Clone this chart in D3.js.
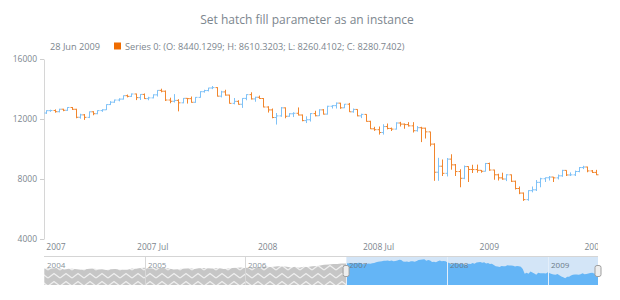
<!DOCTYPE html>
<html><head><meta charset="utf-8">
<script src="https://cdn.jsdelivr.net/npm/d3@7"></script>
<style>body{margin:0;background:#fff;} svg{display:block;font-family:"Open Sans",sans-serif;}</style>
</head><body><svg id="c" width="620" height="300"></svg>
<script>
// ---- data (weekly OHLC, first week dated 7 Jan 2007, last 28 Jun 2009) ----
const opens = [12398,12556,12565,12487,12653,12580,12767,12647,12114,12276,12110,12481,12354,12560,12612,12961,13120,13264,13327,13556,
13507,13668,13424,13639,13360,13408,13611,13907,13851,13265,13181,13239,13079,13378,13358,13113,13442,13820,13896,14066,
14093,13522,13806,13595,13042,13176,12981,13372,13625,13339,13450,13366,12800,12606,12099,12207,12743,12182,12348,12381,
12266,11894,11951,12361,12216,12609,12325,12849,12891,13058,12745,12986,12480,12638,12210,12307,11843,11346,11288,11100,
11496,11370,11326,11734,11659,11628,11543,11220,11421,11388,11143,10325,8451,8852,8378,9325,8943,8497,8046,8829,
8635,8629,8579,8515,9034,8599,8281,8077,8000,8280,7850,7366,7062,6627,7224,7279,7776,8018,8083,8131,
8076,8212,8575,8268,8277,8500,8763,8799,8539,8440.1299];
const highs = [12580,12620,12640,12680,12680,12790,12800,12680,12350,12330,12500,12520,12580,12650,12980,13190,13290,13380,13570,13630,
13700,13690,13660,13700,13480,13640,13920,14020,13900,13420,13660,13320,13400,13400,13500,13460,13850,13950,14080,14200,
14120,13880,13950,13620,13400,13250,13390,13650,13780,13480,13560,13400,12850,12700,12400,12800,12770,12390,12450,12770,
12300,12180,12400,12550,12650,12660,12880,12920,13100,13080,13000,13070,12700,12650,12350,12320,11880,11480,11500,11650,
11700,11430,11780,11810,11700,11790,11790,11530,11480,11420,11150,10380,9410,9300,9400,9650,9000,8650,8900,8850,
8950,8960,8600,9070,9090,8620,8350,8420,8320,8300,7890,7500,7100,7250,7500,7930,8080,8100,8200,8140,
8300,8610,8580,8440,8560,8800,8880,8820,8600,8610.3203];
const lows = [12340,12480,12420,12440,12520,12540,12600,12050,12020,11940,12060,12250,12320,12480,12600,12930,13080,13180,13300,13440,
13470,13260,13270,13340,13250,13380,13500,13780,13200,13050,13100,12510,13050,13030,13090,13080,13420,13760,13840,13990,
13500,13440,13560,13030,12980,12960,12740,13250,13300,13150,13340,12780,12430,12050,11630,12150,12050,12150,12130,12240,
11850,11730,11830,12180,12200,12300,12300,12700,12700,12680,12730,12470,12420,12180,12060,11820,11330,11210,10960,10960,
11310,11200,11300,11500,11350,11500,11100,11160,10460,10700,10180,7880,7880,8200,8170,8620,8200,7450,7990,7800,
8400,8420,8420,8500,8550,7950,7900,7950,7860,7800,7300,6990,6540,6550,7110,7200,7450,7800,7900,7800,
7970,8150,8200,8200,8200,8450,8660,8450,8400,8260.4102];
const closes = [12556,12565,12487,12653,12580,12767,12647,12114,12276,12110,12481,12354,12560,12612,12961,13120,13264,13327,13556,13507,
13668,13424,13639,13360,13408,13611,13907,13851,13265,13181,13239,13079,13378,13358,13113,13442,13820,13896,14066,14093,
13522,13806,13595,13042,13176,12981,13372,13625,13339,13450,13366,12800,12606,12099,12207,12743,12182,12348,12381,12266,
11894,11951,12361,12216,12609,12325,12849,12891,13058,12745,12986,12480,12638,12210,12307,11843,11346,11288,11100,11496,
11370,11326,11734,11659,11628,11543,11220,11421,11388,11143,10325,8451,8852,8378,9325,8943,8497,8046,8829,8635,
8629,8579,8515,9034,8599,8281,8077,8000,8280,7850,7366,7062,6627,7224,7279,7776,8018,8083,8131,8076,
8212,8575,8268,8277,8500,8763,8799,8539,8438,8280.7402];
const firstWeek = "2007-01-07";
const yTicks = [4000, 8000, 12000, 16000];
const xTickLabels = ["2007","2007 Jul","2008","2008 Jul","2009","2009 Jul"];
const xTickIndex = [0, 25, 52, 78, 104, 130];
// scroller (2004-2006, twice-monthly closes)
const scrollDates = ["2004-01-02","2004-01-15","2004-01-30","2004-02-15","2004-02-27","2004-03-15","2004-03-31","2004-04-15","2004-04-30","2004-05-14","2004-05-28","2004-06-15","2004-06-30","2004-07-15","2004-07-30","2004-08-13","2004-08-31","2004-09-15","2004-09-30","2004-10-15","2004-10-29","2004-11-15","2004-11-30","2004-12-15","2004-12-31",
"2005-01-14","2005-01-31","2005-02-15","2005-02-28","2005-03-15","2005-03-31","2005-04-15","2005-04-29","2005-05-13","2005-05-31","2005-06-15","2005-06-30","2005-07-15","2005-07-29","2005-08-15","2005-08-31","2005-09-15","2005-09-30","2005-10-14","2005-10-31","2005-11-15","2005-11-30","2005-12-15","2005-12-30",
"2006-01-13","2006-01-31","2006-02-15","2006-02-28","2006-03-15","2006-03-31","2006-04-13","2006-04-28","2006-05-15","2006-05-31","2006-06-15","2006-06-30","2006-07-14","2006-07-31","2006-08-15","2006-08-31","2006-09-15","2006-09-29","2006-10-13","2006-10-31","2006-11-15","2006-11-30","2006-12-15","2006-12-29"];
const scrollValues = [10450,10600,10488,10700,10584,10100,10358,10400,10226,10000,10188,10400,10435,10100,10140,9850,10174,10300,10080,9950,10027,10500,10428,10700,10783,
10550,10490,10800,10766,10650,10504,10100,10193,10400,10467,10550,10275,10600,10641,10600,10482,10550,10569,10300,10440,10700,10806,10850,10718,
10900,10865,11050,10993,11250,11109,11200,11367,11400,11168,10900,11150,10800,11186,11100,11381,11500,11679,11950,12081,12250,12221,12450,12463];
const scrollYears = ["2004","2005","2006","2007","2008","2009"];
const legendDate = "28 Jun 2009";
const seriesName = "Series 0";
const titleText = "Set hatch fill parameter as an instance";

// ---- layout ----
const svg = d3.select("#c");
const L = 44, R = 598, T = 59, B = 239;
const upColor = "#64b5f6", downColor = "#ef6c00", textColor = "#7c868e";
const n = closes.length;
const x = d3.scaleLinear().domain([-0.5, n - 0.5]).range([L, R]);
const y = d3.scaleLinear().domain([4000, 16000]).range([B, T]);

svg.append("text").attr("x", 307).attr("y", 24).attr("text-anchor", "middle")
  .attr("font-size", 12).attr("fill", textColor).text(titleText);

// legend
const fmt = v => v.toFixed(4);
const li = n - 1;
svg.append("text").attr("x", 50).attr("y", 50).attr("font-size", 9.2).attr("fill", textColor).text(legendDate);
svg.append("rect").attr("x", 114).attr("y", 42.5).attr("width", 7).attr("height", 7).attr("fill", downColor);
svg.append("text").attr("x", 125).attr("y", 50).attr("font-size", 9.2).attr("fill", textColor)
  .text(`${seriesName}: (O: ${fmt(opens[li])}; H: ${fmt(highs[li])}; L: ${fmt(lows[li])}; C: ${fmt(closes[li])})`);

// y axis
const ya = svg.append("g").attr("transform", `translate(${L},0)`)
  .call(d3.axisLeft(y).tickValues(yTicks).tickSize(4).tickSizeOuter(0).tickPadding(3).tickFormat(d3.format("d")));
ya.select(".domain").attr("stroke", "#d6d6d6");
ya.selectAll(".tick line").attr("stroke", "#cecece");
ya.selectAll("text").attr("fill", textColor).attr("font-size", 8.5).attr("font-family", "Open Sans");

// clip
svg.append("clipPath").attr("id", "clipX").append("rect").attr("x", 0).attr("y", 0).attr("width", R).attr("height", 300);

// bars
const bars = svg.append("g").attr("opacity", 0.82);
d3.range(n).forEach(i => {
  const xc = Math.round(x(i)) + 0.5;
  const col = closes[i] >= opens[i] ? upColor : downColor;
  const g = bars.append("g").attr("stroke", col).attr("stroke-width", 1);
  g.append("line").attr("x1", xc).attr("x2", xc).attr("y1", y(highs[i])).attr("y2", y(lows[i]));
  g.append("line").attr("x1", xc - 2).attr("x2", xc).attr("y1", y(opens[i])).attr("y2", y(opens[i]));
  g.append("line").attr("x1", xc).attr("x2", xc + 2).attr("y1", y(closes[i])).attr("y2", y(closes[i]));
});

// x axis labels
svg.append("g").attr("clip-path", "url(#clipX)").selectAll("text").data(xTickLabels).join("text")
  .attr("x", (d, k) => Math.max(x(xTickIndex[k]), L + 12)).attr("y", 250).attr("text-anchor", "middle")
  .attr("font-size", 8.5).attr("fill", textColor).text(d => d);

// ---- scroller ----
const sT = 257, sB = 285;
const parse = d3.timeParse("%Y-%m-%d");
const sx = d3.scaleTime().domain([parse("2004-01-01"), parse("2009-07-03")]).range([L, R]);
const sy = d3.scaleLinear().domain([4000, 15000]).range([sB, sT]);
const w0 = parse(firstWeek);
const oldPts = scrollDates.map((d, k) => [parse(d), scrollValues[k]]);
const newPts = closes.map((c, i) => [d3.timeDay.offset(w0, 7 * i + 5), c]);
const allPts = oldPts.concat(newPts);
const selX = sx(parse("2007-01-01"));

const defs = svg.append("defs");
const pat = defs.append("pattern").attr("id", "zig").attr("patternUnits", "userSpaceOnUse")
  .attr("width", 12).attr("height", 8);
pat.append("rect").attr("width", 12).attr("height", 8).attr("fill", "#c6c6c6");
pat.append("path").attr("d", "M0,6 L6,1.5 L12,6").attr("fill", "none").attr("stroke", "#efefef").attr("stroke-width", 1.4);

svg.append("rect").attr("x", L).attr("y", sT).attr("width", R - L).attr("height", sB - sT).attr("fill", "#ffffff");
svg.append("rect").attr("x", selX).attr("y", sT).attr("width", R - selX).attr("height", sB - sT).attr("fill", "#d3e5f7");

const area = d3.area().x(d => sx(d[0])).y0(sB).y1(d => sy(d[1]));
defs.append("clipPath").attr("id", "clipOld").append("rect").attr("x", L).attr("y", sT).attr("width", selX - L).attr("height", sB - sT);
defs.append("clipPath").attr("id", "clipNew").append("rect").attr("x", selX).attr("y", sT).attr("width", R - selX).attr("height", sB - sT);
svg.append("path").datum(allPts).attr("d", area).attr("fill", "url(#zig)").attr("clip-path", "url(#clipOld)");
svg.append("path").datum(allPts).attr("d", area).attr("fill", upColor).attr("clip-path", "url(#clipNew)");

// year grid lines and labels in scroller
scrollYears.forEach(yr => {
  const xx = Math.round(sx(parse(yr + "-01-01"))) + 0.5;
  const inSel = xx >= selX - 1;
  if (xx > L + 2) svg.append("line").attr("x1", xx).attr("x2", xx).attr("y1", sT).attr("y2", sB)
    .attr("stroke", inSel ? "#e3eefa" : "#d8d8d8").attr("stroke-width", 1);
  svg.append("text").attr("x", xx + 2.5).attr("y", 268).attr("font-size", 8)
    .attr("fill", inSel ? "#6b7a88" : "#8a949c").text(yr);
});
svg.append("line").attr("x1", L).attr("x2", R).attr("y1", sT - 0.5).attr("y2", sT - 0.5).attr("stroke", "#d5d5d5");

// handles
[selX, R].forEach(hx => {
  svg.append("rect").attr("x", hx - 3).attr("y", 265.5).attr("width", 6).attr("height", 11).attr("rx", 2)
    .attr("fill", "#eeeeee").attr("stroke", "#9e9e9e").attr("stroke-width", 1);
});
</script></body></html>
